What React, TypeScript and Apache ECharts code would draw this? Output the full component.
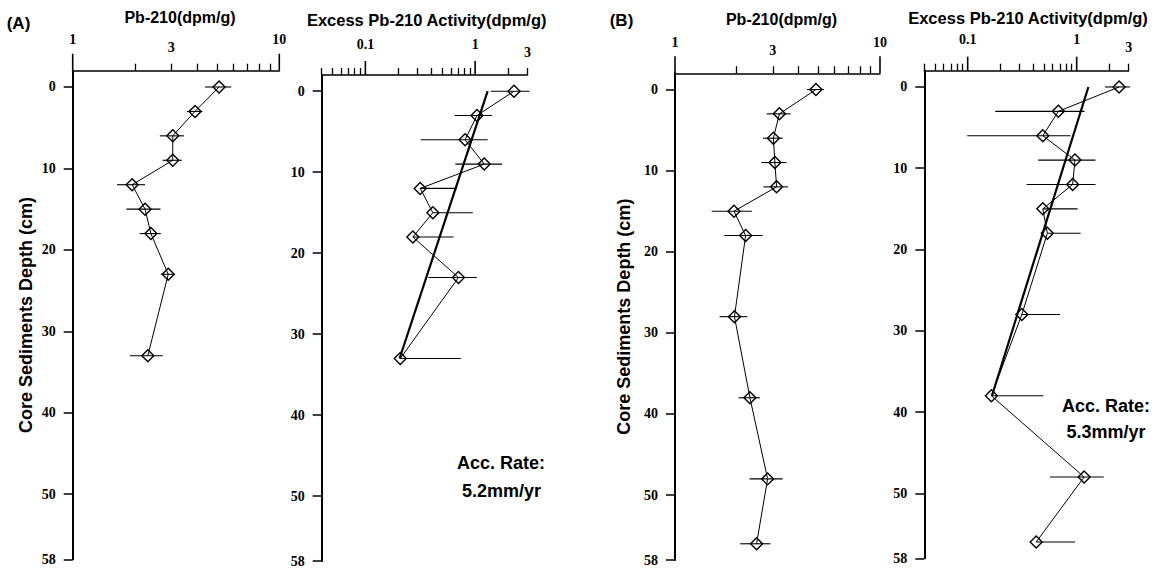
import React, { useEffect, useRef } from 'react';
import * as echarts from 'echarts';

// Core A
const depthA = [0, 3, 6, 9, 12, 15, 18, 23, 33];
const pbA = [5.11, 3.91, 3.05, 3.05, 1.94, 2.24, 2.39, 2.9, 2.31];
const pbAErr = [0.74, 0.34, 0.41, 0.33, 0.3, 0.42, 0.28, 0.23, 0.42];
const exA = [2.26, 1.04, 0.81, 1.21, 0.316, 0.412, 0.271, 0.705, 0.208];
const exAErr = [0.87, 0.39, 0.49, 0.55, 0.364, 0.54, 0.364, 0.33, 0.533];
const fitA = [[1.3, 0], [0.205, 33]];

// Core B
const depthB = [0, 3, 6, 9, 12, 15, 18, 28, 38, 48, 56];
const pbB = [4.87, 3.23, 3.02, 3.07, 3.13, 1.94, 2.21, 1.95, 2.32, 2.83, 2.5];
const pbBErr = [0.46, 0.43, 0.33, 0.43, 0.43, 0.43, 0.47, 0.3, 0.28, 0.52, 0.42];
const exB = [2.45, 0.679, 0.489, 0.964, 0.918, 0.489, 0.538, 0.314, 0.165, 1.17, 0.425];
const exBErr = [0.63, 0.5, 0.39, 0.52, 0.57, 0.53, 0.55, 0.39, 0.33, 0.6, 0.54];
const fitB = [[1.28, 0], [0.167, 38]];

// Axis ticks / labels
const depthTicks = [0, 10, 20, 30, 40, 50, 58];
const depthMin = -2;
const depthMax = 58;
const pbMajor = [1, 10];
const pbMinor = [2, 3, 4, 5, 6, 7, 8, 9];
const pbLabels = [1, 3, 10];
const exMajor = [0.1, 1];
const exMinor = [0.04, 0.05, 0.06, 0.07, 0.08, 0.09, 0.2, 0.3, 0.4, 0.5, 0.6, 0.7, 0.8, 0.9, 2, 3];
const exLabels = [0.1, 1, 3];

const titles = {
  pb: 'Pb-210(dpm/g)',
  ex: 'Excess Pb-210 Activity(dpm/g)',
  depth: 'Core Sediments Depth (cm)',
  accLabel: 'Acc. Rate:',
  accA: '5.2mm/yr',
  accB: '5.3mm/yr',
};

const SERIF = '"Liberation Serif", "Times New Roman", serif';
const SANS = '"Liberation Sans", Arial, sans-serif';

const grids = [
  { left: 72.7, top: 70.7, width: 206.6, height: 488.6 },
  { left: 321.7, top: 75, width: 205.8, height: 486 },
  { left: 675, top: 73.3, width: 205, height: 486.7 },
  { left: 924.3, top: 70.7, width: 204.4, height: 487.6 },
];

const AXES_PER_GRID = 2;

function fmt(v: any) {
  return String(Number(Number(v).toPrecision(6)));
}

function xAxesFor(gridIndex: number, min: number, max: number, minor: number[], labels: number[]) {
  return [
    {
      type: 'log',
      logBase: 10,
      gridIndex,
      position: 'top',
      min,
      max,
      axisLine: { show: true, onZero: false, lineStyle: { color: '#000', width: 1.5 } },
      axisTick: { show: false },
      minorTick: { show: false },
      splitLine: { show: false },
      axisLabel: {
        show: true,
        customValues: labels,
        margin: 16,
        formatter: (v: any) => {
          const s = fmt(v);
          return s === '3' ? `{lo|${s}}` : `{hi|${s}}`;
        },
        rich: {
          hi: { fontFamily: SERIF, fontWeight: 'bold', fontSize: 14, color: '#000', padding: [0, 0, 8, 0] },
          lo: { fontFamily: SERIF, fontWeight: 'bold', fontSize: 14, color: '#000' },
        },
      },
    },
    {
      type: 'log',
      logBase: 10,
      gridIndex,
      position: 'top',
      min,
      max,
      axisLine: { show: false, onZero: false },
      axisTick: { show: true, customValues: minor, length: 7, lineStyle: { color: '#000', width: 1.3 } },
      minorTick: { show: false },
      splitLine: { show: false },
      axisLabel: { show: false },
    },
  ];
}

function yAxisFor(gridIndex: number, showName: boolean, nameGap: number) {
  return {
    type: 'value',
    gridIndex,
    inverse: true,
    min: depthMin,
    max: depthMax,
    name: showName ? titles.depth : '',
    nameLocation: 'middle',
    nameGap,
    nameTextStyle: { fontFamily: SANS, fontWeight: 'bold', fontSize: 18, color: '#000' },
    axisLine: { show: true, onZero: false, lineStyle: { color: '#000', width: 2 } },
    axisTick: { show: true, customValues: depthTicks, length: 9, lineStyle: { color: '#000', width: 1.5 } },
    axisLabel: {
      show: true,
      customValues: depthTicks,
      margin: 17,
      fontFamily: SERIF,
      fontWeight: 'bold',
      fontSize: 14,
      color: '#000',
    },
    splitLine: { show: false },
  };
}

// Long major ticks of the log axes, placed through the axis scale
function majorTickSeries(g: number, values: number[], len: number) {
  return {
    type: 'custom',
    xAxisIndex: g * AXES_PER_GRID,
    yAxisIndex: g,
    clip: false,
    silent: true,
    data: values.map((v) => [v, depthMin]),
    encode: { x: 0, y: 1 },
    z: 5,
    renderItem: (params: any, api: any) => {
      const p = api.coord([api.value(0), api.value(1)]);
      return {
        type: 'line',
        shape: { x1: p[0], y1: p[1], x2: p[0], y2: p[1] - len },
        style: { stroke: '#000', lineWidth: 1.6 },
      };
    },
  };
}

function errorSeries(g: number, vals: number[], errs: number[], depths: number[]) {
  return {
    type: 'custom',
    xAxisIndex: g * AXES_PER_GRID,
    yAxisIndex: g,
    data: depths.map((d, i) => [vals[i], errs[i], d]),
    encode: { x: 0, y: 2 },
    z: 2,
    renderItem: (params: any, api: any) => {
      const v = api.value(0);
      const e = api.value(1);
      const d = api.value(2);
      const lo = v - e > 0 ? v - e : v;
      const p1 = api.coord([lo, d]);
      const p2 = api.coord([v + e, d]);
      return {
        type: 'line',
        shape: { x1: p1[0], y1: p1[1], x2: p2[0], y2: p2[1] },
        style: { stroke: '#000', lineWidth: 1.1 },
      };
    },
  };
}

function dataSeries(g: number, vals: number[], depths: number[]) {
  return {
    type: 'line',
    xAxisIndex: g * AXES_PER_GRID,
    yAxisIndex: g,
    data: depths.map((d, i) => [vals[i], d]),
    symbol: 'diamond',
    symbolSize: [12, 12],
    showSymbol: true,
    lineStyle: { color: '#000', width: 1 },
    itemStyle: { color: 'rgba(255,255,255,0)', borderColor: '#000', borderWidth: 1.4 },
    z: 3,
  };
}

function fitSeries(g: number, pts: number[][]) {
  return {
    type: 'line',
    xAxisIndex: g * AXES_PER_GRID,
    yAxisIndex: g,
    data: pts,
    symbol: 'none',
    lineStyle: { color: '#000', width: 2.2 },
    z: 4,
  };
}

function textEl(text: string, x: number, y: number, size: number, family = SANS) {
  return {
    type: 'text',
    x,
    y,
    style: {
      text,
      fill: '#000',
      font: `bold ${size}px ${family}`,
      textAlign: 'center',
      textVerticalAlign: 'middle',
    },
  };
}

export default function App() {
  const ref = useRef<HTMLDivElement>(null);
  useEffect(() => {
    if (!ref.current) return;
    const chart = echarts.init(ref.current, undefined, { renderer: 'svg' });
    const option: any = {
      animation: false,
      backgroundColor: '#fff',
      grid: grids.map((g) => ({ ...g, containLabel: false, outerBoundsMode: 'none' })),
      xAxis: [
        ...xAxesFor(0, 1, 10, pbMinor, pbLabels),
        ...xAxesFor(1, 0.04, 3, exMinor, exLabels),
        ...xAxesFor(2, 1, 10, pbMinor, pbLabels),
        ...xAxesFor(3, 0.04, 3, exMinor, exLabels),
      ],
      yAxis: [yAxisFor(0, true, 38), yAxisFor(1, false, 0), yAxisFor(2, true, 42), yAxisFor(3, false, 0)],
      series: [
        majorTickSeries(0, pbMajor, 17),
        majorTickSeries(1, exMajor, 14),
        majorTickSeries(2, pbMajor, 17),
        majorTickSeries(3, exMajor, 14),
        errorSeries(0, pbA, pbAErr, depthA),
        dataSeries(0, pbA, depthA),
        errorSeries(1, exA, exAErr, depthA),
        dataSeries(1, exA, depthA),
        fitSeries(1, fitA),
        errorSeries(2, pbB, pbBErr, depthB),
        dataSeries(2, pbB, depthB),
        errorSeries(3, exB, exBErr, depthB),
        dataSeries(3, exB, depthB),
        fitSeries(3, fitB),
      ],
      graphic: [
        textEl('(A)', 18.5, 23, 17),
        textEl('(B)', 621.5, 20, 17),
        textEl(titles.pb, 180, 17, 16),
        textEl(titles.ex, 426.7, 20, 16.5),
        textEl(titles.pb, 781.5, 19, 16),
        textEl(titles.ex, 1028, 18, 16.5),
        textEl(titles.accLabel, 501, 463, 18),
        textEl(titles.accA, 501.5, 491, 18),
        textEl(titles.accLabel, 1106, 406, 18),
        textEl(titles.accB, 1106, 432, 18),
      ],
    };
    chart.setOption(option);
    return () => chart.dispose();
  }, []);
  return (
    <div
      ref={ref}
      style={{ position: 'fixed', left: 0, top: 0, width: 1163, height: 570, background: '#fff' }}
    />
  );
}
